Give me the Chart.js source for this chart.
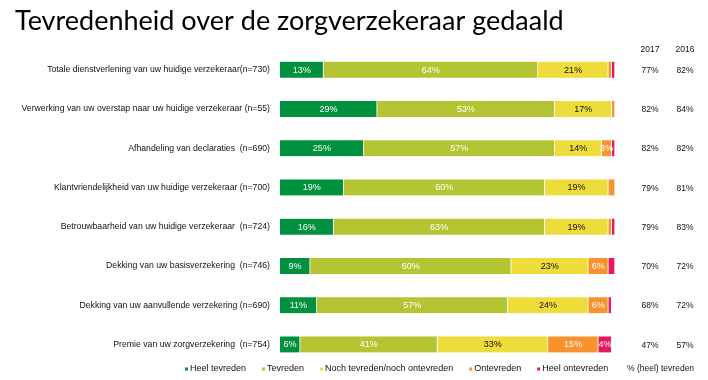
<!DOCTYPE html>
<html>
<head>
<meta charset="utf-8">
<script src="https://cdn.jsdelivr.net/npm/chart.js@4"></script>
<style>
  html, body { margin: 0; padding: 0; background: #fff; }
  #wrap { width: 708px; height: 380px; position: relative; }
</style>
</head>
<body>
<div id="wrap"><canvas id="c" width="708" height="380"></canvas></div>
<script>
const titleText = 'Tevredenheid over de zorgverzekeraar gedaald';
const categories = [
  'Totale dienstverlening van uw huidige verzekeraar(n=730)',
  'Verwerking van uw overstap naar uw huidige verzekeraar (n=55)',
  'Afhandeling van declaraties  (n=690)',
  'Klantvriendelijkheid van uw huidige verzekeraar (n=700)',
  'Betrouwbaarheid van uw huidige verzekeraar  (n=724)',
  'Dekking van uw basisverzekering  (n=746)',
  'Dekking van uw aanvullende verzekering (n=690)',
  'Premie van uw zorgverzekering  (n=754)'
];
const seriesNames = ['Heel tevreden', 'Tevreden', 'Noch tevreden/noch ontevreden', 'Ontevreden', 'Heel ontevreden'];
const heelTevreden   = [13, 29, 25, 19, 16,  9, 11,  6];
const tevreden       = [64, 53, 57, 60, 63, 60, 57, 41];
const noch           = [21, 17, 14, 19, 19, 23, 24, 33];
const ontevreden     = [ 1,  1,  3,  2,  1,  6,  6, 15];
const heelOntevreden = [ 1,  0,  1,  0,  1,  2,  1,  4];
const yearHeaders = ['2017', '2016'];
const tevreden2017 = ['77%', '82%', '82%', '79%', '79%', '70%', '68%', '47%'];
const tevreden2016 = ['82%', '84%', '82%', '81%', '83%', '72%', '72%', '57%'];
const sideCaption = '% (heel) tevreden';

const colors = ['#00913F', '#B4C432', '#EEDC3B', '#F7922D', '#E6175C'];
const labelColors = ['#ffffff', '#ffffff', '#111111', '#ffffff', '#ffffff'];
const seriesValues = [heelTevreden, tevreden, noch, ontevreden, heelOntevreden];

const SANS = '"Liberation Sans", Arial, sans-serif';

const overlay = {
  id: 'overlay',
  afterDatasetsDraw(chart) {
    const ctx = chart.ctx;
    chart.data.datasets.forEach((ds, di) => {
      const meta = chart.getDatasetMeta(di);
      meta.data.forEach((bar, i) => {
        const v = ds.data[i];
        if (v < 3) return;
        ctx.save();
        ctx.font = '9px ' + SANS;
        ctx.fillStyle = labelColors[di];
        ctx.textAlign = 'center';
        ctx.textBaseline = 'middle';
        const cx = (bar.x + bar.base) / 2;
        ctx.fillText(v + '%', cx, bar.y + 0.5);
        ctx.restore();
      });
    });
  },
  afterDraw(chart) {
    const ctx = chart.ctx;
    const y = chart.scales.y;
    ctx.save();
    ctx.font = '27px Lato, "Open Sans", sans-serif';
    ctx.fillStyle = '#000';
    ctx.textAlign = 'left';
    ctx.textBaseline = 'alphabetic';
    ctx.fillText(titleText, 15, 30);
    ctx.font = '8.5px ' + SANS;
    ctx.fillStyle = '#111';
    ctx.textAlign = 'center';
    ctx.textBaseline = 'middle';
    const colX = [650, 685];
    ctx.fillText(yearHeaders[0], colX[0], 50);
    ctx.fillText(yearHeaders[1], colX[1], 50);
    categories.forEach((c, i) => {
      const py = y.getPixelForValue(i) + 1;
      ctx.fillText(tevreden2017[i], colX[0], py);
      ctx.fillText(tevreden2016[i], colX[1], py);
    });
    ctx.font = '9px ' + SANS;
    ctx.textAlign = 'left';
    let lx = 185;
    const ly = 369;
    chart.data.datasets.forEach((ds, di) => {
      ctx.fillStyle = colors[di];
      ctx.fillRect(lx, ly - 1.5, 3, 3);
      ctx.fillStyle = '#111';
      ctx.fillText(ds.label, lx + 5, ly);
      lx += 5 + ctx.measureText(ds.label).width + 16;
    });
    ctx.font = '8.5px ' + SANS;
    ctx.fillText(sideCaption, 627, ly);
    ctx.restore();
  }
};

const datasets = seriesNames.map((name, i) => ({
  label: name,
  data: seriesValues[i],
  backgroundColor: colors[i],
  borderColor: '#ffffff',
  borderWidth: {top: 0, bottom: 0, left: 0, right: 1},
  borderSkipped: false,
  barThickness: 16
}));

new Chart(document.getElementById('c'), {
  type: 'bar',
  data: { labels: categories, datasets },
  options: {
    indexAxis: 'y',
    responsive: false,
    animation: false,
    layout: { padding: { left: 0, right: 93, top: 50, bottom: 16 } },
    plugins: { legend: { display: false }, title: { display: false }, tooltip: { enabled: false } },
    scales: {
      x: { stacked: true, min: 0, max: 100, display: false },
      y: {
        stacked: true,
        grid: { display: false },
        border: { display: false },
        afterFit(scale) { scale.width = 280; },
        ticks: { color: '#111', font: { family: SANS, size: 8.7 }, padding: 2, autoSkip: false }
      }
    }
  },
  plugins: [overlay]
});
</script>
</body>
</html>
